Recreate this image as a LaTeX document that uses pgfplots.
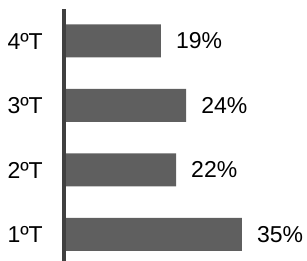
\documentclass[border=0pt]{standalone}
\usepackage{fontspec}
\setmainfont{Liberation Sans}
\usepackage{pgfplots}
\pgfplotsset{compat=1.18}
\definecolor{barc}{HTML}{5F5F5F}
\definecolor{axc}{HTML}{404040}
\begin{document}
\begin{tikzpicture}
\begin{axis}[name=ax, scale only axis, width=242.5bp, height=252bp,
  xmin=0, xmax=47.83, ymin=0.589, ymax=4.496,
  xbar, bar width=33bp,
  axis x line=none, axis y line*=left,
  y axis line style={draw=axc, line width=4bp},
  axis on top,
  ytick={1,2,3,4}, yticklabels={1ºT,2ºT,3ºT,4ºT},
  major tick length=0pt, ytick style={draw=none},
  yticklabel style={inner sep=0pt, xshift=-21.5bp, text=black, font=\fontsize{23bp}{27bp}\selectfont},
  /pgf/number format/assume math mode=true,
  nodes near coords={\pgfmathprintnumber{\pgfplotspointmeta}\%},
  nodes near coords align=horizontal,
  every node near coord/.append style={anchor=west, inner sep=0pt, xshift=15bp, text=black, font=\fontsize{23bp}{27bp}\selectfont},
  clip=false,
]
\addplot[fill=barc, draw=none] coordinates {(35,1) (22,2) (24,3) (19,4)};
\end{axis}
\pgfresetboundingbox
\path (ax.south west) ++(-64.5bp,0) rectangle ++(307bp,261bp);
\end{tikzpicture}
\end{document}
